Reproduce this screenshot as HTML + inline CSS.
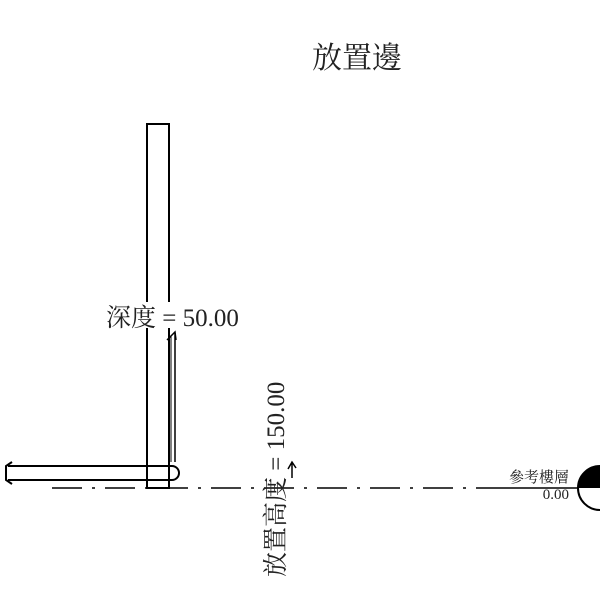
<!DOCTYPE html>
<html><head><meta charset="utf-8"><style>
html,body{margin:0;padding:0;background:#fff;}
svg{display:block;}
text{font-family:"Liberation Serif","Noto Serif CJK SC","Noto Sans CJK TC",serif;fill:#222;}
</style></head><body>
<svg width="600" height="600" viewBox="0 0 600 600" xmlns="http://www.w3.org/2000/svg">
<text x="357" y="68" font-size="30" text-anchor="middle">放置邊</text>
<rect x="147" y="124" width="22" height="364" fill="none" stroke="#000" stroke-width="2"/>
<line x1="8" y1="466" x2="170" y2="466" stroke="#000" stroke-width="2"/>
<line x1="8" y1="480" x2="170" y2="480" stroke="#000" stroke-width="2"/>
<path d="M170 466 h2 a7 7 0 0 1 0 14 h-2" fill="none" stroke="#000" stroke-width="2"/>
<path d="M12 462 L6 466 L6 480 L12 484" fill="none" stroke="#000" stroke-width="2"/>
<line x1="175" y1="333" x2="175" y2="462" stroke="#000" stroke-width="1.5"/>
<line x1="171" y1="336" x2="171" y2="462" stroke="#000" stroke-width="1"/>
<path d="M167 340 L175 332 L176 340" fill="none" stroke="#000" stroke-width="1.5"/>
<rect x="104" y="302" width="134" height="26" fill="#fff"/>
<text x="106" y="326" font-size="25">深度 = 50.00</text>
<line x1="52" y1="488" x2="500" y2="488" stroke="#000" stroke-width="1.5" stroke-dasharray="30,10,3,10"/>
<line x1="500" y1="488" x2="578" y2="488" stroke="#000" stroke-width="1.5"/>
<circle cx="600" cy="488" r="22" fill="#fff" stroke="#000" stroke-width="2"/>
<path d="M600 488 L578 488 A22 22 0 0 1 600 466 Z" fill="#000"/>
<text x="569" y="482" font-size="15" text-anchor="end">參考樓層</text>
<text x="569" y="499" font-size="15" text-anchor="end">0.00</text>
<text transform="translate(284,577) rotate(-90)" font-size="25">放置高度 = 150.00</text>
<path d="M288 469 L292 462 L296 468 M292 462 L292 478" fill="none" stroke="#000" stroke-width="1.5"/>
<text transform="translate(-4,580) rotate(-90)" font-size="25" fill="#666">放置高度 = 150.00</text>
</svg>
</body></html>
